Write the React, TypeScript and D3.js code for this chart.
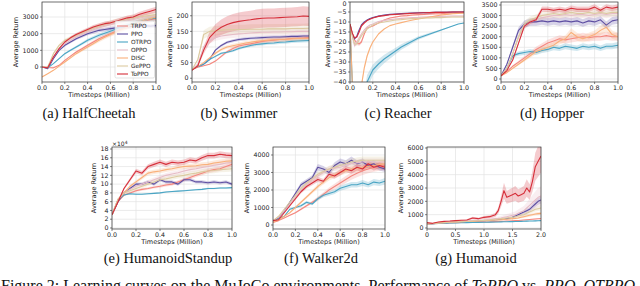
import React from 'react';
import * as d3 from 'd3';

// ---------- data ----------
const methods = ['TRPO', 'PPO', 'OTRPO', 'OPPO', 'DISC', 'GePPO', 'ToPPO'];
const methodColors = ['#f4877f', '#5e4fa2', '#4aa5c4', '#e6bcc6', '#f9b07a', '#dccaa0', '#d62f3a'];

const stepsMillion = [0, .05, .1, .15, .2, .25, .3, .35, .4, .45, .5, .55, .6, .65, .7, .75, .8, .85, .9, .95, 1];
const reacherSteps = [0, .02, .04, .06, .08, .1, .125, .15, .175, .2, .25, .3, .35, .4, .45, .5, .55, .6, .65, .7, .75, .8, .85, .9, .95, 1];
const humanoidSteps = [0, .1, .2, .3, .4, .5, .6, .7, .8, .9, 1, 1.1, 1.2, 1.25, 1.3, 1.35, 1.4, 1.45, 1.5, 1.55, 1.6, 1.65, 1.7, 1.75, 1.8, 1.85, 1.9, 1.95, 2];

// order of rows: TRPO, PPO, OTRPO, OPPO, DISC, GePPO, ToPPO
const halfCheetahReturns = [
  [0, -30, -50, 100, 400, 650, 900, 1100, 1300, 1500, 1700, 1850, 2000, 2150, 2300, 2430, 2550, 2650, 2750, 2830, 2900],
  [0, -100, 500, 1000, 1300, 1500, 1700, 1850, 2000, 2100, 2200, 2250, 2300, 2350, 2400, 2420, 2450, 2450, 2480, 2450, 2480],
  [0, -50, 200, 500, 800, 1000, 1200, 1400, 1600, 1750, 1900, 2030, 2150, 2280, 2400, 2500, 2600, 2700, 2800, 2880, 2950],
  [0, 0, 600, 1100, 1400, 1600, 1800, 1950, 2100, 2230, 2350, 2450, 2550, 2630, 2700, 2780, 2850, 2930, 3000, 3050, 3100],
  [-600, -400, -200, 50, 300, 550, 800, 1000, 1200, 1400, 1600, 1780, 1950, 2100, 2250, 2400, 2550, 2680, 2800, 2900, 3000],
  [0, 0, 800, 1300, 1600, 1750, 1900, 2050, 2200, 2330, 2450, 2550, 2650, 2730, 2800, 2880, 2950, 3000, 3050, 3100, 3150],
  [0, -50, 600, 1100, 1500, 1750, 1950, 2100, 2250, 2400, 2500, 2600, 2650, 2750, 2850, 2950, 3000, 3150, 3250, 3350, 3450],
];
const swimmerReturns = [
  [28, 35, 40, 45, 55, 70, 85, 95, 103, 107, 110, 114, 118, 120, 122, 124, 125, 127, 128, 129, 130],
  [28, 38, 45, 60, 90, 105, 115, 120, 124, 126, 128, 129, 130, 131, 132, 132, 133, 134, 134, 135, 135],
  [28, 38, 45, 60, 70, 80, 83, 88, 95, 100, 105, 108, 110, 112, 113, 115, 116, 118, 119, 120, 121],
  [28, 45, 100, 120, 130, 135, 138, 140, 142, 143, 145, 146, 147, 147, 148, 148, 149, 149, 150, 150, 150],
  [28, 38, 50, 65, 80, 92, 100, 104, 108, 112, 115, 118, 120, 122, 123, 124, 125, 126, 127, 127, 128],
  [28, 60, 140, 150, 152, 154, 155, 155, 156, 156, 157, 157, 157, 158, 158, 158, 158, 159, 159, 159, 160],
  [25, 40, 90, 130, 150, 163, 172, 178, 182, 185, 187, 190, 192, 193, 193, 194, 195, 196, 197, 199, 198],
];
const reacherReturns = [
  [-11, -16, -19, -20.5, -21, -20, -16, -13, -12.5, -12, -10.5, -9, -8, -7.5, -7, -6.8, -6.5, -6.3, -6.2, -6, -5.9, -5.8, -5.6, -5.5, -5.4, -5.3],
  [-11, -16, -18.5, -17, -14, -11.5, -10, -9, -8.3, -7.8, -7, -6.5, -6.2, -6, -5.8, -5.6, -5.5, -5.4, -5.3, -5.3, -5.2, -5.1, -5.1, -5, -5, -5],
  [-11, -40, -60, -65, -65, -60, -50, -40, -37, -34, -31, -28.5, -26.5, -24.5, -22.5, -21, -19.5, -18, -17, -16, -15, -14, -13, -12, -11, -10.5],
  [-11, -17, -22, -20, -18, -16, -14, -12.5, -11.5, -11, -9.8, -9.2, -8.8, -8.5, -8.2, -8, -7.8, -7.7, -7.5, -7.4, -7.3, -7.2, -7.1, -7, -7, -7],
  [-11, -40, -70, -65, -55, -42, -33, -27, -23, -20, -16, -13.5, -11.8, -11, -10.3, -9.6, -9, -8.5, -8, -7.5, -7, -6.5, -6.2, -5.9, -5.7, -5.5],
  [-11, -17, -21, -21, -19, -17, -15, -13.5, -12.5, -11.5, -10.5, -10, -9.5, -9, -8.8, -8.5, -8.3, -8.2, -8, -8, -7.8, -7.8, -7.6, -7.5, -7.5, -7.5],
  [-11, -15.5, -18, -17.5, -15, -12, -10.5, -9.3, -8.6, -8, -7.2, -6.8, -6.4, -6.2, -6, -5.8, -5.6, -5.5, -5.4, -5.3, -5.2, -5.2, -5.1, -5, -5, -5],
];
const hopperReturns = [
  [150, 350, 600, 800, 1000, 1200, 1400, 1550, 1700, 1800, 1900, 1850, 1900, 1950, 2000, 1950, 2000, 2000, 2050, 2000, 2000],
  [150, 700, 1500, 2300, 2600, 2700, 2700, 2750, 2700, 2750, 2700, 2750, 2700, 2750, 2650, 2750, 2700, 2800, 2550, 2750, 2800],
  [150, 500, 1100, 1200, 1250, 1300, 1250, 1350, 1400, 1500, 1450, 1550, 1500, 1450, 1550, 1500, 1550, 1450, 1550, 1550, 1600],
  [150, 500, 1200, 2000, 2500, 2700, 2800, 2900, 2950, 3000, 3000, 3050, 3000, 3050, 3050, 3000, 3050, 3100, 3050, 3100, 3100],
  [150, 300, 500, 700, 900, 1100, 1300, 1400, 1500, 1600, 1800, 1900, 2200, 2000, 1900, 2000, 2100, 2300, 2450, 2100, 2000],
  [150, 500, 1200, 2000, 2600, 2800, 2900, 3000, 3050, 3100, 3050, 3100, 3150, 3100, 3100, 3150, 3100, 3150, 3100, 3150, 3150],
  [150, 400, 900, 1700, 2500, 2700, 2800, 3300, 3300, 3250, 3300, 3250, 3350, 3300, 3300, 3300, 3400, 3250, 3400, 3350, 3400],
];
// values in units of 10^4
const standupReturns = [
  [3, 6, 7.5, 8, 8.5, 8.8, 9, 9.3, 9.5, 9.8, 10, 10.5, 11, 11.5, 12, 12.5, 13, 13.3, 13.5, 14, 14.5],
  [3, 6, 8, 9, 10, 10, 10.5, 10, 11, 10.5, 10.5, 10, 11, 11, 10.5, 10.5, 10.3, 10.5, 10.3, 10.5, 10],
  [3, 6.5, 7.5, 7.8, 7.7, 7.7, 7.8, 7.9, 8, 8.2, 8.3, 8.4, 8.5, 8.6, 8.7, 8.8, 9, 9, 9.1, 9.1, 9.2],
  [3, 6.5, 8, 8.8, 9.5, 10, 10.5, 11, 11.5, 12, 12.3, 12.6, 13, 13.3, 13.5, 13.8, 14, 14.3, 14.5, 14.8, 15],
  [3, 6.5, 8, 9.5, 10.5, 11.5, 12.5, 12.8, 13, 13.3, 13.5, 13.8, 14, 14.1, 14.2, 14.4, 14.5, 14.8, 15, 15.2, 15.3],
  [3, 6.5, 8, 8.5, 9, 9.5, 10, 10.5, 11, 11.2, 11.5, 11.8, 12, 12.3, 12.5, 12.8, 13, 13.1, 13.3, 13.4, 13.5],
  [3, 6, 9, 11, 13, 12.5, 14, 14.5, 15, 14.5, 15, 14.8, 15, 15.5, 15.3, 16, 16.5, 16.5, 16.8, 16.6, 16.5],
];
const walkerReturns = [
  [150, 250, 400, 550, 700, 900, 1100, 1300, 1500, 1750, 2000, 2200, 2400, 2600, 2800, 2950, 3100, 3200, 3300, 3350, 3400],
  [250, 400, 800, 1300, 1800, 2300, 2500, 2700, 3300, 3200, 3000, 3400, 3600, 3500, 3700, 3500, 3600, 3400, 3500, 3300, 3200],
  [250, 350, 500, 900, 1000, 1100, 1300, 1200, 1500, 1700, 1800, 1900, 2100, 2200, 2300, 2300, 2400, 2300, 2450, 2400, 2500],
  [250, 450, 800, 1200, 1600, 2000, 2300, 2600, 2800, 3000, 3200, 3250, 3300, 3400, 3500, 3550, 3600, 3600, 3600, 3600, 3600],
  [150, 300, 500, 700, 1000, 1300, 1600, 1900, 2200, 2450, 2700, 2850, 3000, 3100, 3200, 3250, 3300, 3350, 3400, 3450, 3500],
  [250, 500, 900, 1300, 1700, 2100, 2400, 2650, 2900, 3050, 3200, 3300, 3400, 3500, 3600, 3650, 3700, 3700, 3700, 3700, 3700],
  [250, 300, 700, 1100, 1500, 1900, 2200, 2400, 2600, 2500, 2900, 2800, 3000, 3200, 3100, 3300, 3200, 3500, 3300, 3400, 3300],
];
const humanoidReturns = [
  [300, 320, 340, 360, 380, 400, 410, 420, 430, 440, 450, 460, 480, 490, 500, 510, 520, 530, 540, 550, 560, 580, 600, 620, 640, 660, 680, 690, 700],
  [300, 330, 360, 390, 420, 450, 470, 490, 510, 530, 550, 580, 620, 640, 660, 690, 700, 750, 800, 900, 1000, 1100, 1200, 1300, 1400, 1600, 1800, 2000, 2100],
  [300, 320, 340, 360, 370, 380, 390, 400, 410, 420, 430, 440, 450, 455, 460, 465, 470, 475, 480, 485, 490, 500, 510, 515, 520, 530, 535, 540, 550],
  [300, 340, 380, 420, 450, 480, 500, 530, 550, 580, 600, 650, 700, 720, 750, 800, 850, 900, 950, 1000, 1100, 1200, 1300, 1500, 1700, 1900, 2100, 2300, 2400],
  [300, 340, 380, 400, 430, 450, 470, 490, 500, 520, 550, 570, 600, 610, 620, 640, 660, 680, 700, 720, 750, 800, 850, 900, 950, 1000, 1050, 1080, 1100],
  [300, 330, 370, 400, 430, 460, 480, 500, 520, 540, 570, 600, 650, 670, 700, 720, 750, 780, 800, 850, 900, 950, 1000, 1100, 1200, 1300, 1400, 1450, 1500],
  [400, 350, 450, 500, 520, 550, 580, 600, 750, 700, 800, 850, 1000, 1300, 2000, 2800, 2300, 2400, 2500, 2600, 2400, 2500, 2600, 3000, 2700, 3500, 4600, 5000, 5400],
];
// estimated shaded spread (fraction of change from start) per method
const halfCheetahSpread = [0.06, 0.05, 0.06, 0.06, 0.05, 0.06, 0.05];
const swimmerSpread = [0.08, 0.05, 0.06, 0.1, 0.08, 0.12, 0.18];
const reacherSpread = [0.1, 0.05, 0.12, 0.1, 0.05, 0.1, 0.05];
const hopperSpread = [0.1, 0.07, 0.1, 0.06, 0.1, 0.06, 0.04];
const standupSpread = [0.05, 0.05, 0.03, 0.06, 0.05, 0.06, 0.05];
const walkerSpread = [0.08, 0.06, 0.08, 0.06, 0.06, 0.06, 0.06];
const humanoidSpread = [0.1, 0.15, 0.1, 0.35, 0.15, 0.15, 0.25];

const unitTicks = [0, 0.2, 0.4, 0.6, 0.8, 1.0];
const humanoidXTicks = [0, 0.5, 1.0, 1.5, 2.0];
const halfCheetahYTicks = [0, 1000, 2000, 3000];
const swimmerYTicks = [0, 50, 100, 150, 200];
const reacherYTicks = [0, -5, -10, -15, -20, -25, -30, -35, -40];
const hopperYTicks = [0, 500, 1000, 1500, 2000, 2500, 3000, 3500];
const standupYTicks = [0, 2, 4, 6, 8, 10, 12, 14, 16, 18];
const walkerYTicks = [0, 1000, 2000, 3000, 4000];
const humanoidYTicks = [0, 1000, 2000, 3000, 4000, 5000, 6000];

const captions = ['(a) HalfCheetah', '(b) Swimmer', '(c) Reacher', '(d) Hopper', '(e) HumanoidStandup', '(f) Walker2d', '(g) Humanoid'];

// ---------- layout ----------
type PanelCfg = {
  caption: string; cx: number; cy: number;
  left: number; right: number; top: number; bottom: number;
  xDomain: [number, number]; yDomain: [number, number];
  xTicks: number[]; yTicks: number[]; xFmt: (v: number) => string;
  xs: number[]; series: number[][]; spread: number[]; legend?: boolean; offset?: boolean;
};

const f1 = (v: number) => v.toFixed(1);
const fHum = (v: number) => (v === 0 ? '0' : v.toFixed(1));

const panels: PanelCfg[] = [
  { caption: captions[0], cx: 89, cy: 118, left: 42, right: 156, top: 2, bottom: 82, xDomain: [0, 1], yDomain: [-900, 3900], xTicks: unitTicks, yTicks: halfCheetahYTicks, xFmt: f1, xs: stepsMillion, series: halfCheetahReturns, spread: halfCheetahSpread, legend: true },
  { caption: captions[1], cx: 239, cy: 118, left: 192, right: 309, top: 2, bottom: 82, xDomain: [0, 1], yDomain: [-12, 244], xTicks: unitTicks, yTicks: swimmerYTicks, xFmt: f1, xs: stepsMillion, series: swimmerReturns, spread: swimmerSpread },
  { caption: captions[2], cx: 398, cy: 118, left: 350, right: 464, top: 2, bottom: 82, xDomain: [0, 1], yDomain: [-40, 0], xTicks: unitTicks, yTicks: reacherYTicks, xFmt: f1, xs: reacherSteps, series: reacherReturns, spread: reacherSpread },
  { caption: captions[3], cx: 552, cy: 118, left: 501, right: 618, top: 2, bottom: 82, xDomain: [0, 1], yDomain: [-142, 3642], xTicks: unitTicks, yTicks: hopperYTicks, xFmt: f1, xs: stepsMillion, series: hopperReturns, spread: hopperSpread },
  { caption: captions[4], cx: 168, cy: 263, left: 112, right: 232, top: 147, bottom: 229, xDomain: [0, 1], yDomain: [-0.23, 18.46], xTicks: unitTicks, yTicks: standupYTicks, xFmt: f1, xs: stepsMillion, series: standupReturns, spread: standupSpread, offset: true },
  { caption: captions[5], cx: 321, cy: 263, left: 273, right: 385, top: 147, bottom: 229, xDomain: [0, 1], yDomain: [-229, 4457], xTicks: unitTicks, yTicks: walkerYTicks, xFmt: f1, xs: stepsMillion, series: walkerReturns, spread: walkerSpread },
  { caption: captions[6], cx: 476, cy: 263, left: 427, right: 541, top: 147, bottom: 229, xDomain: [0, 2], yDomain: [-75, 6075], xTicks: humanoidXTicks, yTicks: humanoidYTicks, xFmt: fHum, xs: humanoidSteps, series: humanoidReturns, spread: humanoidSpread },
];

const SANS = 'DejaVu Sans, sans-serif';
const SERIF = 'Liberation Serif, Times New Roman, serif';
const fmtY = (v: number) => (v < 0 ? '\u2212' + Math.abs(v) : String(v));

function Panel({ p, idx }: { p: PanelCfg; idx: number }) {
  const x = d3.scaleLinear().domain(p.xDomain).range([p.left, p.right]);
  const y = d3.scaleLinear().domain(p.yDomain).range([p.bottom, p.top]);
  const clipId = `clip${idx}`;
  const maxLen = d3.max(p.yTicks.map((t) => fmtY(t).length)) || 3;
  const ylabX = p.left - 5 - maxLen * 3.7 - 4;
  return (
    <g>
      <defs>
        <clipPath id={clipId}>
          <rect x={p.left} y={p.top} width={p.right - p.left} height={p.bottom - p.top} />
        </clipPath>
      </defs>
      <rect x={p.left} y={p.top} width={p.right - p.left} height={p.bottom - p.top} fill="#fff" />
      {p.xTicks.map((t) => (
        <line key={'gx' + t} x1={x(t)} x2={x(t)} y1={p.top} y2={p.bottom} stroke="#e3e3e3" strokeWidth={0.7} />
      ))}
      {p.yTicks.map((t) => (
        <line key={'gy' + t} x1={p.left} x2={p.right} y1={y(t)} y2={y(t)} stroke="#e3e3e3" strokeWidth={0.7} />
      ))}
      <g clipPath={`url(#${clipId})`}>
        {p.series.map((vals, k) => {
          const v0 = vals[0];
          const area = d3
            .area<number>()
            .x((_, i) => x(p.xs[i]))
            .y0((v) => y(v - Math.abs(v - v0) * p.spread[k]))
            .y1((v) => y(v + Math.abs(v - v0) * p.spread[k]));
          return <path key={'a' + k} d={area(vals) || ''} fill={methodColors[k]} opacity={0.25} />;
        })}
        {p.series.map((vals, k) => {
          const line = d3
            .line<number>()
            .x((_, i) => x(p.xs[i]))
            .y((v) => y(v));
          return <path key={'l' + k} d={line(vals) || ''} fill="none" stroke={methodColors[k]} strokeWidth={1.1} strokeLinejoin="round" />;
        })}
      </g>
      <rect x={p.left} y={p.top} width={p.right - p.left} height={p.bottom - p.top} fill="none" stroke="#333" strokeWidth={0.7} />
      {p.xTicks.map((t) => (
        <g key={'tx' + t}>
          <line x1={x(t)} x2={x(t)} y1={p.bottom} y2={p.bottom + 2} stroke="#333" strokeWidth={0.6} />
          <text x={x(t)} y={p.bottom + 7.8} fontSize={6.3} fontFamily={SANS} textAnchor="middle" fill="#222">
            {p.xFmt(t)}
          </text>
        </g>
      ))}
      {p.yTicks.map((t) => (
        <g key={'ty' + t}>
          <line x1={p.left - 2} x2={p.left} y1={y(t)} y2={y(t)} stroke="#333" strokeWidth={0.6} />
          <text x={p.left - 3.5} y={Math.max(y(t) + 2.2, 5.5)} fontSize={6.3} fontFamily={SANS} textAnchor="end" fill="#222">
            {fmtY(t)}
          </text>
        </g>
      ))}
      {p.offset && (
        <text x={p.left} y={p.top - 1} fontSize={6} fontFamily={SANS} fill="#222">
          ×10<tspan fontSize={4.5} dy={-2.5}>4</tspan>
        </text>
      )}
      <text x={(p.left + p.right) / 2} y={p.bottom + 14.8} fontSize={6.5} fontFamily={SANS} textAnchor="middle" fill="#222">
        Timesteps (Million)
      </text>
      <text
        transform={`translate(${ylabX},${(p.top + p.bottom) / 2}) rotate(-90)`}
        fontSize={6.5}
        fontFamily={SANS}
        textAnchor="middle"
        fill="#222"
      >
        Average Return
      </text>
      {p.legend && (
        <g>
          <rect x={p.right - 41} y={p.top + 19} width={39.5} height={57} fill="#fff" fillOpacity={0.8} stroke="#d0d0d0" strokeWidth={0.6} rx={1.5} />
          {methods.map((m, k) => (
            <g key={m}>
              <line x1={p.right - 39} x2={p.right - 28} y1={p.top + 24 + k * 8} y2={p.top + 24 + k * 8} stroke={methodColors[k]} strokeWidth={1.1} />
              <text x={p.right - 25} y={p.top + 26.2 + k * 8} fontSize={5.8} fontFamily={SANS} fill="#222">
                {m}
              </text>
            </g>
          ))}
        </g>
      )}
      <text x={p.cx} y={p.cy} fontSize={14.5} fontFamily={SERIF} textAnchor="middle" fill="#111">
        {p.caption}
      </text>
    </g>
  );
}

export default function App() {
  return (
    <svg width={640} height={286} style={{ position: 'absolute', left: 0, top: 0, background: '#fff' }}>
      <rect width={640} height={286} fill="#fff" />
      {panels.map((p, i) => (
        <Panel key={i} p={p} idx={i} />
      ))}
      <text x={1} y={291} fontSize={16} fontFamily={SERIF} fill="#111">
        Figure 2: Learning curves on the MuJoCo environments. Performance of <tspan fontStyle="italic">ToPPO</tspan> vs.{' '}
        <tspan fontStyle="italic">PPO</tspan>, <tspan fontStyle="italic">OTRPO</tspan>
      </text>
    </svg>
  );
}
